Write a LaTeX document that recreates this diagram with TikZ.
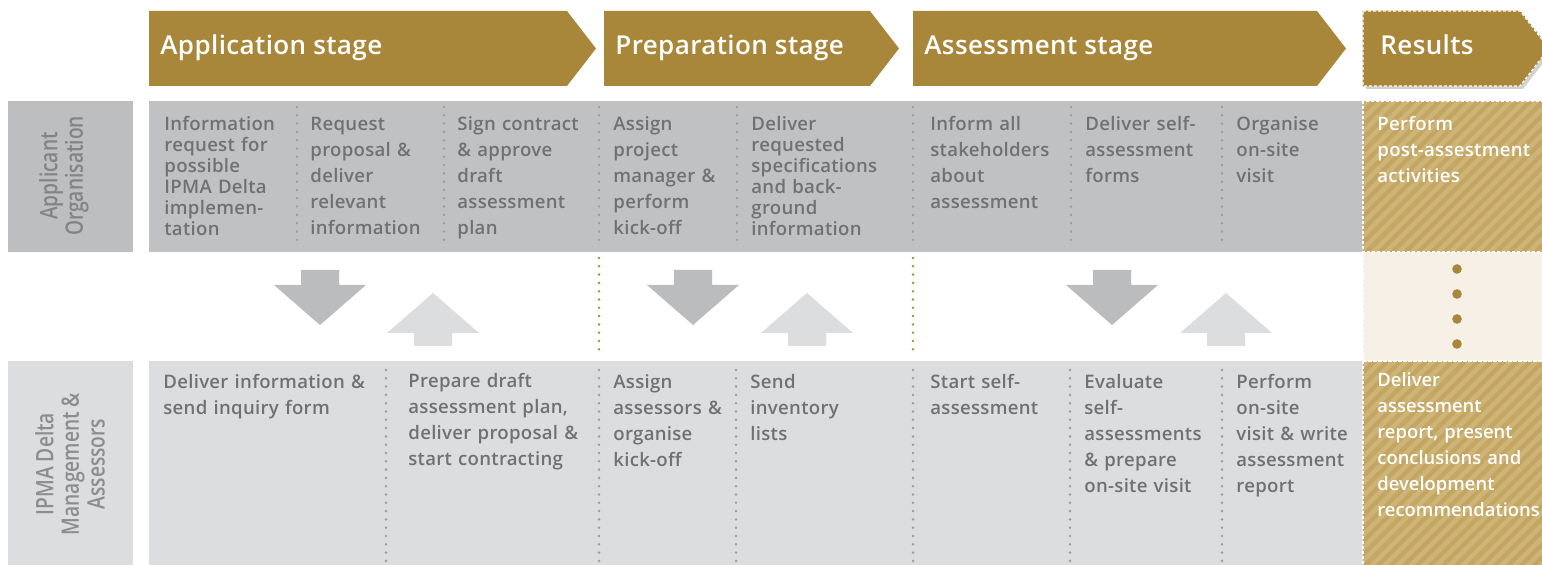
\documentclass[tikz,border=0pt]{standalone}
\usepackage{fontspec}
\setmainfont{Open Sans}
\newfontfamily\hdrfont[LetterSpace=1.5]{Open Sans Semibold}
\newfontfamily\bodyfont[LetterSpace=1.5]{Open Sans Semibold}
\newfontfamily\tightbodyfont[LetterSpace=0]{Open Sans Semibold}
\newfontfamily\labfont[FakeStretch=0.8]{Open Sans Semibold}
\usetikzlibrary{shadows}
\definecolor{gold}{HTML}{A8873A}
\definecolor{dotgold}{HTML}{B08D3A}
\definecolor{rowA}{HTML}{C0C1C3}
\definecolor{rowB}{HTML}{DCDDDF}
\definecolor{labA}{HTML}{BDBEC0}
\definecolor{txt}{HTML}{707173}
\definecolor{labtxtA}{HTML}{838486}
\definecolor{labtxtB}{HTML}{8C8D8F}
\definecolor{dotg}{HTML}{9C9D9F}
\definecolor{hatch}{HTML}{C4A562}
\definecolor{hatchL}{HTML}{CDB477}
\definecolor{beige}{HTML}{F6F0E7}
\definecolor{arrDark}{HTML}{BBBCBE}
\definecolor{arrLight}{HTML}{DCDDDF}
\begin{document}
\begin{tikzpicture}[x=0.5pt,y=-0.5pt,
  cell/.style={anchor=base west, inner sep=0pt, align=left, text width=110pt, text=txt,
    font=\bodyfont\fontsize{9.3}{13}\selectfont},
  tight/.style={font=\bodyfont\fontsize{9.3}{10.5}\selectfont},
  restxt/.style={cell, text=white},
  hdr/.style={anchor=base west, inner sep=0pt, text=white, font=\hdrfont\fontsize{13}{15}\selectfont},
  lab/.style={rotate=90, align=center, inner sep=0pt, font=\labfont\fontsize{12}{12.75}\selectfont},
  sep/.style={draw=dotg, line width=1.4pt, line cap=round, dash pattern=on 0pt off 4.15pt},
  goldsep/.style={sep, draw=dotgold},
  resborder/.style={draw=white, line width=0.6pt, dash pattern=on 1.5pt off 1pt},
]
\useasboundingbox (0,0) rectangle (1542,565);
\fill[white] (0,0) rectangle (1542,565);

% rows
\fill[labA] (8,101) rectangle (133,252);
\fill[rowB] (8,361) rectangle (133,565);
\fill[rowA] (149,101) rectangle (1363,252);
\fill[rowB] (149,361) rectangle (1363,565);

% results cells
\begin{scope}
  \clip (1363,101) rectangle (1542,252) (1363,361) rectangle (1542,565);
  \fill[hatch] (1363,101) rectangle (1542,565);
  \foreach \i in {-500,-487,...,300} \draw[hatchL, line width=2.3pt] (1363+\i,580) -- ++(520,-520);
\end{scope}
\fill[beige] (1363,252) rectangle (1542,361);
\draw[resborder] (1363,101) rectangle (1545,252);
\draw[resborder] (1363,252) rectangle (1545,361);
\draw[resborder] (1363,361) rectangle (1545,568);
\foreach \yy in {269,294,319,344} \fill[gold] (1457,\yy) circle (2.4pt);

% headers
\fill[gold] (149,11) -- (567,11) -- (596,48.5) -- (567,86) -- (149,86) -- cycle;
\fill[gold] (604,11) -- (870,11) -- (899,48.5) -- (870,86) -- (604,86) -- cycle;
\fill[gold] (913,11) -- (1317,11) -- (1346,48.5) -- (1317,86) -- (913,86) -- cycle;
\filldraw[gold, drop shadow={shadow xshift=1.5pt, shadow yshift=-1.5pt, opacity=0.35}]
  (1363,11) -- (1520,11) -- (1549,48.5) -- (1520,86) -- (1363,86) -- cycle;
\draw[resborder] (1363,11) -- (1520,11) -- (1549,48.5) -- (1520,86) -- (1363,86) -- cycle;

\node[hdr] (h1) at (160,55) {Application stage};
\node[hdr] (h2) at (615,55) {Preparation stage};
\node[hdr] (h3) at (924,55) {Assessment stage};
\node[hdr] (h4) at (1380,55) {Results};

% labels
\node[lab, text=labtxtA] (la) at (64,176) {Applicant\\Organisation};
\node[lab, text=labtxtB] (lb) at (70,464) {IPMA Delta\\Management \&\\Assessors};

% separators row 1
\foreach \xx in {297,444,599,737,913,1071,1222} \draw[sep] (\xx,107) -- (\xx,245);
% separators middle
\foreach \xx in {599,913} \draw[goldsep] (\xx,258) -- (\xx,356);
% separators row 2
\foreach \xx in {386,599,736,913,1070,1222} \draw[sep] (\xx,370) -- (\xx,565);

% arrows
\foreach \c in {320,693,1112}
  \fill[arrDark] (\c-19,270) -- (\c+19,270) -- (\c+19,285) -- (\c+46,285) -- (\c,325)
     -- (\c-46,285) -- (\c-19,285) -- cycle;
\foreach \c in {433,807,1226}
  \fill[arrLight] (\c-19,346) -- (\c+19,346) -- (\c+19,333) -- (\c+46,333) -- (\c,293)
     -- (\c-46,333) -- (\c-19,333) -- cycle;

% row 1 texts
\node[cell, tight] (a1) at (164,131) {Information\\request for\\possible\\IPMA Delta\\implemen-\\tation};
\node[cell] (a2) at (310,131) {Request\\proposal \&\\deliver\\relevant\\information};
\node[cell] (a3) at (457,131) {Sign contract\\\& approve\\draft\\assessment\\plan};
\node[cell] (a4) at (613,131) {Assign\\project\\manager \&\\perform\\kick-off};
\node[cell, tight] (a5) at (751,131) {Deliver\\requested\\specifications\\and back-\\ground\\information};
\node[cell] (a6) at (930,131) {Inform all\\stakeholders\\about\\assessment};
\node[cell] (a7) at (1085,131) {Deliver self-\\assessment\\forms};
\node[cell] (a8) at (1236,131) {Organise\\on-site\\visit};
\node[restxt] (a9) at (1377,131) {Perform\\post-assestment\\activities};

% row 2 texts
\node[cell] (b1) at (163,389) {Deliver information \&\\send inquiry form};
\node[cell] (b2) at (408,388) {Prepare draft\\assessment plan,\\deliver proposal \&\\start contracting};
\node[cell] (b3) at (613,389) {Assign\\assessors \&\\organise\\kick-off};
\node[cell] (b4) at (750,389) {Send\\inventory\\lists};
\node[cell] (b5) at (930,389) {Start self-\\assessment};
\node[cell] (b6) at (1084,389) {Evaluate\\self-\\assessments\\\& prepare\\on-site visit};
\node[cell] (b7) at (1236,389) {Perform\\on-site\\visit \& write\\assessment\\report};
\node[restxt, font=\tightbodyfont\fontsize{9.2}{13}\selectfont] (b8) at (1377,387) {Deliver\\assessment\\report, present\\conclusions and\\development\\recommendations};
\end{tikzpicture}
\end{document}
